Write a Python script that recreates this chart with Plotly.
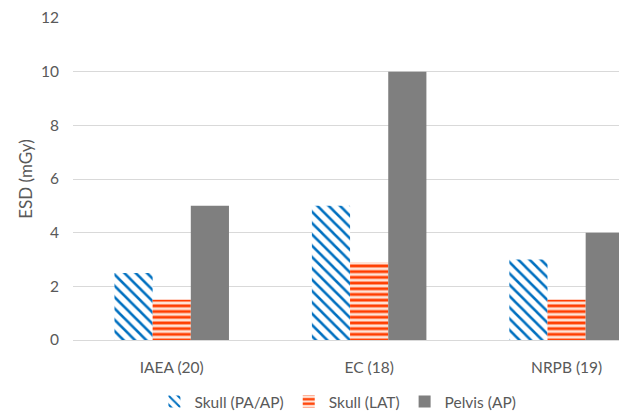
import plotly.graph_objects as go

categories = ["IAEA (20)", "EC (18)", "NRPB (19)"]
skull_pa_ap = [2.5, 5.0, 3.0]
skull_lat = [1.5, 2.9, 1.5]
pelvis_ap = [5.0, 10.0, 4.0]
y_ticks = [0, 2, 4, 6, 8, 10, 12]

FONT = "Lato, Carlito, 'Open Sans', sans-serif"
TXT = "#595959"
FS = 15.5

fig = go.Figure()
fig.add_trace(go.Bar(
    name="Skull (PA/AP)", x=categories, y=skull_pa_ap,
    marker=dict(color="white", line=dict(width=0),
                pattern=dict(shape="\\", fgcolor="#0070C0", bgcolor="white",
                             fillmode="replace", size=8, solidity=0.32)),
))
fig.add_trace(go.Bar(
    name="Skull (LAT)", x=categories, y=skull_lat,
    marker=dict(color="white", line=dict(width=0),
                pattern=dict(shape="-", fgcolor="#FF3D00", bgcolor="#FFE3D6",
                             fillmode="replace", size=5.7, solidity=0.5)),
))
fig.add_trace(go.Bar(
    name="Pelvis (AP)", x=categories, y=pelvis_ap,
    marker=dict(color="#7F7F7F", line=dict(width=0)),
))

# page body has an 8px margin; figure is sized/offset to compensate
fig.update_layout(
    width=619, height=404,
    margin=dict(l=65, r=0, t=8, b=72),
    paper_bgcolor="white", plot_bgcolor="white",
    barmode="group", bargap=0.42, bargroupgap=0,
    font=dict(family=FONT, size=FS, color=TXT),
    showlegend=True,
    legend=dict(orientation="h", xref="container", yref="container",
                x=0.533, xanchor="center", y=0.025, yanchor="middle",
                font=dict(size=FS, color=TXT), itemwidth=30,
                tracegroupgap=0),
    xaxis=dict(range=[-0.5, 2.306], showgrid=False, showline=True,
               linecolor="#D9D9D9", linewidth=1, ticks="",
               ticklabelstandoff=13, tickfont=dict(size=FS, color=TXT)),
    yaxis=dict(range=[0, 12], tickvals=y_ticks, showgrid=True,
               gridcolor="#D9D9D9", gridwidth=1, zeroline=False,
               showline=False, ticks="", ticklabelstandoff=13,
               ticklabeloverflow="allow",
               tickfont=dict(size=FS, color=TXT),
               title=dict(text="ESD (mGy)", standoff=4,
                          font=dict(size=17, color=TXT))),
)

fig.write_html("out.html")
